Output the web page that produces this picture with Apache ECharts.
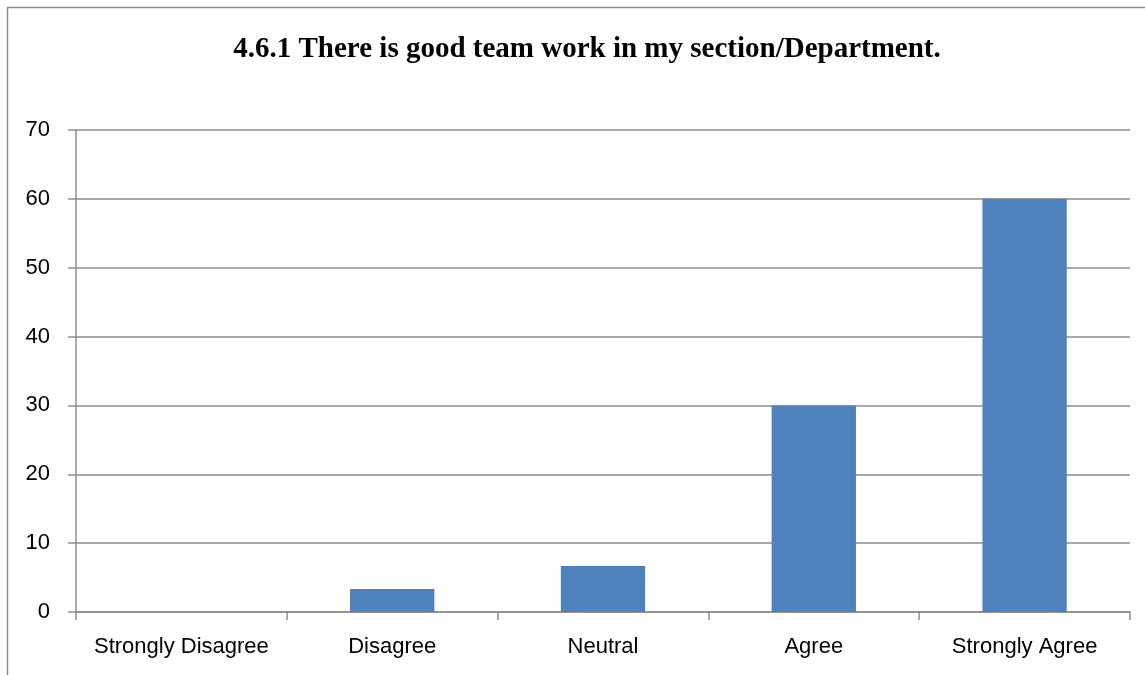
<!DOCTYPE html>
<html>
<head>
<meta charset="utf-8">
<script src="https://cdn.jsdelivr.net/npm/echarts@6/dist/echarts.min.js"></script>
<style>html,body{margin:0;padding:0;background:#fff}#c{width:1145px;height:675px}</style>
</head>
<body>
<div id="c"></div>
<script>
var titleText = '4.6.1 There is good team work in my section/Department.';
var categories = ['Strongly Disagree', 'Disagree', 'Neutral', 'Agree', 'Strongly Agree'];
var values = [0, 3.33, 6.67, 30, 60];
var yTicks = {min: 0, max: 70, interval: 10};

var chart = echarts.init(document.getElementById('c'), null, {renderer: 'canvas'});
chart.setOption({
  animation: false,
  backgroundColor: '#fff',
  title: {
    text: titleText,
    left: 582, top: 30, textAlign: 'center',
    textStyle: {fontFamily: 'Liberation Serif', fontWeight: 'bold', fontSize: 29, color: '#000'}
  },
  graphic: [{
    type: 'rect', shape: {x: 7.5, y: 7.5, width: 1200, height: 700},
    style: {fill: 'none', stroke: '#8c8c8c', lineWidth: 1.5}, silent: true
  }],
  grid: {left: 76, right: 15, top: 130, bottom: 63, containLabel: false},
  xAxis: {
    type: 'category', data: categories,
    axisLine: {lineStyle: {color: '#8c8c8c', width: 1.5}},
    axisTick: {show: true, length: 8, alignWithLabel: false, lineStyle: {color: '#8c8c8c', width: 1.5}},
    axisLabel: {fontFamily: 'Liberation Sans', fontSize: 22, color: '#000', margin: 24, interval: 0}
  },
  yAxis: {
    type: 'value', min: yTicks.min, max: yTicks.max, interval: yTicks.interval,
    axisLine: {show: true, lineStyle: {color: '#8c8c8c', width: 1.5}},
    axisTick: {show: true, length: 8, lineStyle: {color: '#8c8c8c', width: 1.5}},
    splitLine: {lineStyle: {color: '#8c8c8c', width: 1.5}},
    axisLabel: {fontFamily: 'Liberation Sans', fontSize: 22, color: '#000', margin: 26}
  },
  series: [{
    type: 'bar', data: values, barWidth: '40%',
    itemStyle: {color: '#4F81BD'}
  }]
});
</script>
</body>
</html>
